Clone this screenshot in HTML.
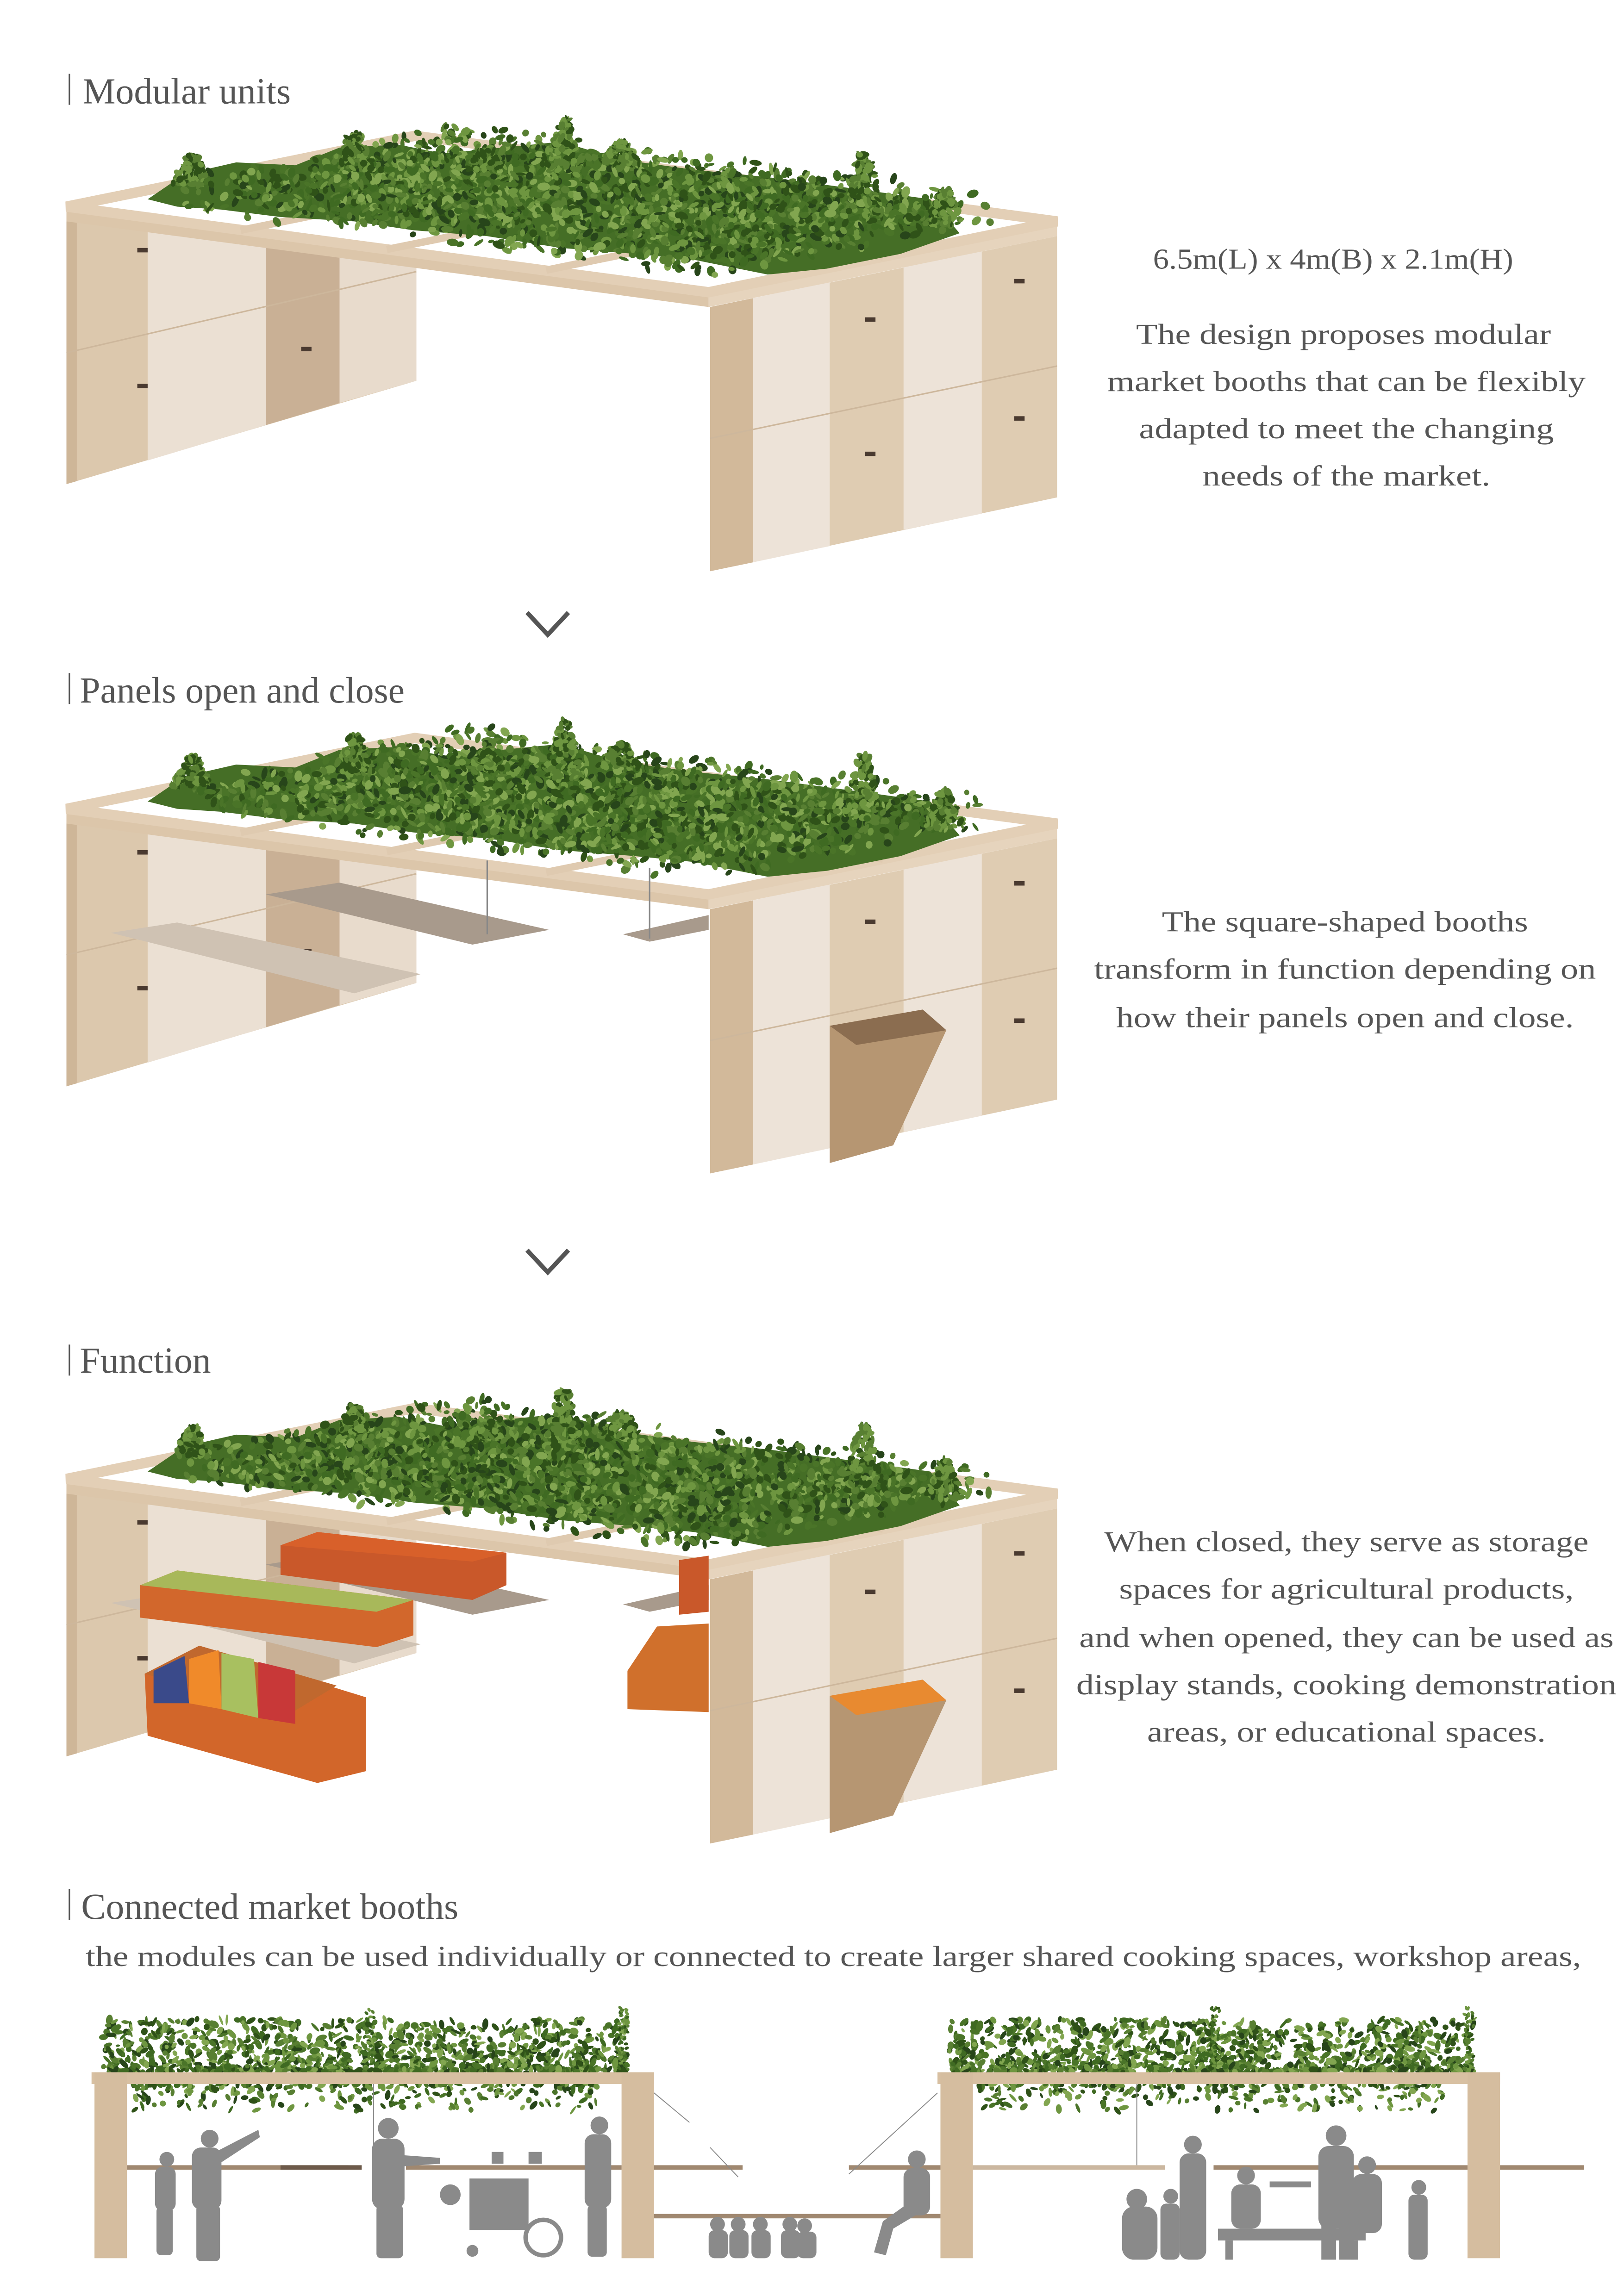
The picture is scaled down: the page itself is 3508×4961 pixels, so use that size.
<!DOCTYPE html>
<html><head><meta charset="utf-8">
<style>
html,body{margin:0;padding:0;background:#fff;}
svg{display:block;}
.t{font-family:"Liberation Serif",serif;fill:#555;}
</style></head>
<body>
<svg id="s" width="3508" height="4961" viewBox="0 0 1100 1555.6" xmlns="http://www.w3.org/2000/svg">
<defs>
<g id="booth">
  <polygon points="45,150 282,110 282,258 45,328" fill="#dcc8ad"/>
  <polygon points="100,141 180,127 180,288 100,312" fill="#ebe0d3"/>
  <polygon points="180,127 230,119 230,273 180,288" fill="#c9b095"/>
  <polygon points="230,119 282,110 282,258 230,273" fill="#e8dbcc"/>
  <polygon points="45,150 52,149 52,326 45,328" fill="#ceb698"/>
  <line x1="45" y1="239" x2="282" y2="184" stroke="#cdb79c" stroke-width="1"/>
  <polygon points="481,208 716,160 716,337 481,387" fill="#dfccb2"/>
  <polygon points="481,208 510,202 510,381 481,387" fill="#d2b99a"/>
  <polygon points="510,202 562,191 562,370 510,381" fill="#ede3d8"/>
  <polygon points="612,181 665,170 665,348 612,359" fill="#ede3d8"/>
  <line x1="481" y1="297" x2="716" y2="248" stroke="#cdb79c" stroke-width="1"/>
  <polygon points="45,140 281,92 716,150 480,198" fill="#fff"/>
  <polygon points="45,140 480,198 480,208 45,150" fill="#dcc6aa"/>
  <polygon points="480,198 716,150 716,160 480,208" fill="#e6d4bd"/>
  <polygon points="45,140 281,92 716,150 480,198" fill="none" stroke="#e3cfb6" stroke-width="7"/>
  <g stroke="#dfcab0" stroke-width="5">
    <line x1="163" y1="156" x2="399" y2="108"/>
    <line x1="262" y1="169" x2="498" y2="121"/>
    <line x1="370" y1="183" x2="606" y2="135"/>
    <line x1="163" y1="116" x2="598" y2="174"/>
  </g>
  <g fill="#4a3a30">
    <rect x="93" y="168" width="7" height="3"/><rect x="93" y="260" width="7" height="3"/>
    <rect x="204" y="235" width="7" height="3"/><rect x="586" y="215" width="7" height="3"/>
    <rect x="586" y="306" width="7" height="3"/><rect x="687" y="189" width="7" height="3"/>
    <rect x="687" y="282" width="7" height="3"/>
  </g>
</g>
<g id="plantbase">
  <polygon points="100,135 125,118 160,110 200,112 230,100 270,98 300,104 340,100 380,96 420,108 470,115 520,120 580,128 630,135 650,158 610,172 560,182 520,186 470,176 430,172 380,168 330,160 280,156 240,150 190,147 150,142 120,140" fill="#456e26"/>
</g>
</defs>

<line x1="47" y1="50" x2="47" y2="71" stroke="#555" stroke-width="1"/>
<text class="t" x="56" y="70" font-size="25">Modular units</text>
<line x1="47" y1="456" x2="47" y2="477" stroke="#555" stroke-width="1"/>
<text class="t" x="54" y="476" font-size="25">Panels open and close</text>
<line x1="47" y1="911" x2="47" y2="932" stroke="#555" stroke-width="1"/>
<text class="t" x="54" y="930" font-size="25">Function</text>
<line x1="47" y1="1280" x2="47" y2="1301" stroke="#555" stroke-width="1"/>
<text class="t" x="55" y="1300" font-size="25">Connected market booths</text>
<text class="t" x="58" y="1332" font-size="19.5" textLength="1013" lengthAdjust="spacingAndGlyphs">the modules can be used individually or connected to create larger shared cooking spaces, workshop areas,</text>

<g class="t" font-size="19.5" text-anchor="middle">
<text x="903" y="182" textLength="244" lengthAdjust="spacingAndGlyphs">6.5m(L) x 4m(B) x 2.1m(H)</text>
<text x="910" y="233" textLength="281" lengthAdjust="spacingAndGlyphs">The design proposes modular</text>
<text x="912" y="265" textLength="324" lengthAdjust="spacingAndGlyphs">market booths that can be flexibly</text>
<text x="912" y="297" textLength="281" lengthAdjust="spacingAndGlyphs">adapted to meet the changing</text>
<text x="912" y="329" textLength="195" lengthAdjust="spacingAndGlyphs">needs of the market.</text>
<text x="911" y="631" textLength="248" lengthAdjust="spacingAndGlyphs">The square-shaped booths</text>
<text x="911" y="663" textLength="340" lengthAdjust="spacingAndGlyphs">transform in function depending on</text>
<text x="911" y="696" textLength="310" lengthAdjust="spacingAndGlyphs">how their panels open and close.</text>
<text x="912" y="1051" textLength="328" lengthAdjust="spacingAndGlyphs">When closed, they serve as storage</text>
<text x="912" y="1083" textLength="308" lengthAdjust="spacingAndGlyphs">spaces for agricultural products,</text>
<text x="912" y="1116" textLength="362" lengthAdjust="spacingAndGlyphs">and when opened, they can be used as</text>
<text x="912" y="1148" textLength="366" lengthAdjust="spacingAndGlyphs">display stands, cooking demonstration</text>
<text x="912" y="1180" textLength="270" lengthAdjust="spacingAndGlyphs">areas, or educational spaces.</text>
</g>

<polyline points="357,415 371,430 385,415" fill="none" stroke="#555" stroke-width="3"/>
<polyline points="357,847 371,862 385,847" fill="none" stroke="#555" stroke-width="3"/>

<use href="#booth"/>
<use href="#plantbase"/>
<g id="pl1"></g>

<g transform="translate(0,408)">
<use href="#booth"/>
<polygon points="180,198 230,190 372,222 320,232" fill="#a89a8c"/>
<polygon points="75,224 120,217 285,252 240,265" fill="#cfc2b3"/>
<polygon points="422,225 480,212 480,222 440,230" fill="#a89a8c"/>
<line x1="330" y1="175" x2="330" y2="225" stroke="#888" stroke-width="1"/>
<line x1="440" y1="180" x2="440" y2="228" stroke="#888" stroke-width="1"/>
<polygon points="562,287 625,276 641,290 605,368 562,380" fill="#b69672"/>
<polygon points="562,287 625,276 641,290 580,300" fill="#8b6d50"/>
<use href="#plantbase"/>
<g id="pl2"></g>
</g>

<g transform="translate(0,862)">
<use href="#booth"/>
<polygon points="180,198 230,190 372,222 320,232" fill="#a89a8c"/>
<polygon points="75,224 120,217 285,252 240,265" fill="#cfc2b3"/>
<polygon points="422,225 480,212 480,222 440,230" fill="#a89a8c"/>
<polygon points="190,185 215,176 343,190 343,212 320,222 190,205" fill="#c9582a"/>
<polygon points="190,185 215,176 343,190 320,196" fill="#d8602a"/>
<polygon points="95,212 120,202 280,222 280,246 255,254 95,234" fill="#d2672c"/>
<polygon points="95,212 120,202 280,222 255,230" fill="#a8b85a"/>
<polygon points="98,272 135,253 248,288 248,338 215,346 100,314" fill="#d2662a"/>
<polygon points="98,272 135,253 228,280 195,300" fill="#c0682e"/>
<polygon points="104,270 125,260 128,292 104,292" fill="#3a4a8a"/>
<polygon points="128,262 148,256 150,296 128,292" fill="#f08a2a"/>
<polygon points="150,258 172,262 175,302 150,296" fill="#a8c060"/>
<polygon points="175,264 200,270 200,306 175,302" fill="#c83838"/>
<polygon points="425,270 445,240 480,238 480,298 425,296" fill="#d0702c"/>
<polygon points="460,195 480,192 480,230 460,232" fill="#c9582a"/>
<polygon points="562,287 625,276 641,290 605,368 562,380" fill="#b69672"/>
<polygon points="562,287 625,276 641,290 580,300" fill="#e88a30"/>
<use href="#plantbase"/>
<g id="pl3"></g>
</g>

<g id="bottom">
  <g id="pl4"></g>
  <rect x="62" y="1404" width="381" height="8" fill="#d8c0a2"/>
  <rect x="64" y="1404" width="22" height="126" fill="#d5bd9f"/>
  <rect x="421" y="1404" width="22" height="126" fill="#d5bd9f"/>
  <rect x="635" y="1404" width="381" height="8" fill="#d8c0a2"/>
  <rect x="637" y="1404" width="22" height="126" fill="#d5bd9f"/>
  <rect x="994" y="1404" width="22" height="126" fill="#d5bd9f"/>
  <g fill="#a08870">
    <rect x="86" y="1467" width="150" height="3"/>
    <rect x="190" y="1467" width="55" height="3" fill="#6d5a4a"/>
    <rect x="275" y="1467" width="146" height="3"/>
    <rect x="443" y="1467" width="60" height="3"/>
    <rect x="575" y="1467" width="62" height="3"/>
    <rect x="659" y="1467" width="130" height="3" fill="#cbb7a0"/>
    <rect x="822" y="1467" width="172" height="3"/>
    <rect x="1016" y="1467" width="57" height="3"/>
    <rect x="443" y="1500" width="194" height="3"/>
  </g>
  <g stroke="#888" stroke-width="0.6">
    <line x1="443" y1="1418" x2="467" y2="1438"/><line x1="481" y1="1455" x2="500" y2="1475"/>
    <line x1="635" y1="1418" x2="575" y2="1473"/><line x1="253" y1="1412" x2="253" y2="1467"/>
    <line x1="770" y1="1412" x2="770" y2="1467"/>
  </g>
  <g fill="#8a8a8a">
    <circle cx="113" cy="1463" r="5"/><rect x="105" y="1468" width="14" height="30" rx="5"/><rect x="106" y="1495" width="11" height="33" rx="3"/>
    <circle cx="142" cy="1449" r="6"/><rect x="130" y="1455" width="20" height="42" rx="6"/><rect x="133" y="1494" width="16" height="38" rx="3"/>
    <polygon points="146,1458 175,1443 176,1448 150,1465"/>
    <circle cx="263" cy="1442" r="7"/><rect x="252" y="1449" width="22" height="48" rx="7"/><rect x="255" y="1494" width="18" height="36" rx="3"/>
    <polygon points="270,1460 298,1462 298,1466 270,1468"/>
    <rect x="318" y="1476" width="40" height="35"/>
    <circle cx="305" cy="1487" r="7"/>
    <circle cx="368" cy="1516" r="12" fill="none" stroke="#8a8a8a" stroke-width="3"/>
    <circle cx="320" cy="1525" r="4"/>
    <rect x="333" y="1458" width="8" height="8"/><rect x="358" y="1458" width="9" height="8"/>
    <circle cx="406" cy="1440" r="6"/><rect x="396" y="1446" width="18" height="50" rx="6"/><rect x="398" y="1494" width="13" height="35" rx="3"/>
    <circle cx="486" cy="1507" r="5"/><rect x="480" y="1511" width="13" height="19" rx="4"/>
    <circle cx="500" cy="1507" r="5"/><rect x="494" y="1511" width="13" height="19" rx="4"/>
    <circle cx="515" cy="1507" r="5"/><rect x="509" y="1511" width="13" height="19" rx="4"/>
    <circle cx="535" cy="1507" r="5"/><rect x="529" y="1511" width="13" height="19" rx="4"/>
    <circle cx="545" cy="1508" r="5"/><rect x="540" y="1512" width="13" height="18" rx="4"/>
    <circle cx="621" cy="1463" r="6"/><rect x="612" y="1469" width="18" height="32" rx="6"/>
    <polygon points="612,1495 630,1495 605,1510 600,1528 592,1526 598,1505"/>
    <circle cx="808" cy="1453" r="6"/><rect x="799" y="1459" width="18" height="72" rx="6"/>
    <circle cx="770" cy="1490" r="7"/><rect x="760" y="1495" width="24" height="36" rx="8"/>
    <circle cx="793" cy="1488" r="5"/><rect x="786" y="1493" width="13" height="38" rx="4"/>
    <circle cx="844" cy="1474" r="6"/><rect x="834" y="1480" width="20" height="30" rx="6"/>
    <rect x="825" y="1510" width="100" height="8"/>
    <rect x="830" y="1518" width="5" height="13"/><rect x="915" y="1518" width="5" height="13"/>
    <rect x="860" y="1478" width="28" height="4"/>
    <circle cx="905" cy="1447" r="7"/><rect x="893" y="1454" width="24" height="56" rx="7"/>
    <rect x="895" y="1505" width="10" height="26"/><rect x="907" y="1505" width="10" height="26"/>
    <circle cx="926" cy="1467" r="6"/><rect x="916" y="1473" width="20" height="40" rx="6"/>
    <circle cx="961" cy="1482" r="5"/><rect x="954" y="1487" width="13" height="44" rx="4"/>
  </g>
</g>
</svg>
<script>
(function(){
var s=12345;function r(){s=(s*1103515245+12345)%2147483648;return s/2147483648;}
var NS="http://www.w3.org/2000/svg";
var cols=["#3f6a22","#587f32","#6e9640","#2f5218","#82a650","#4a7428","#27451a"];
function leaf(g,x,y,rx,ry,c){var e=document.createElementNS(NS,"ellipse");e.setAttribute("cx",x.toFixed(1));e.setAttribute("cy",y.toFixed(1));e.setAttribute("rx",rx.toFixed(1));e.setAttribute("ry",ry.toFixed(1));e.setAttribute("fill",c);e.setAttribute("transform","rotate("+(r()*180-90).toFixed(0)+" "+x.toFixed(1)+" "+y.toFixed(1)+")");g.appendChild(e);}
["pl1","pl2","pl3"].forEach(function(id){
 var g=document.getElementById(id);
 for(var i=0;i<2000;i++){
  var u=0.12+r()*0.83,v=0.1+r()*0.82;
  var x=45+u*435+v*236,y=140+u*58-v*48-r()*22;
  leaf(g,x,y,1.8+r()*2.5,1+r()*1.8,cols[Math.floor(r()*cols.length)]);
 }
 var peaks=[[382,80,40],[585,104,40],[240,90,25],[130,105,20],[640,128,25],[420,96,15],[330,100,15]];
 peaks.forEach(function(p){for(var i=0;i<90;i++){var t=r();leaf(g,p[0]+(r()-0.5)*(6+t*22),p[1]+t*p[2],1.8+r()*2,1+r()*1.4,cols[Math.floor(r()*3)+1]);}});
});
var g=document.getElementById("pl4");
[[70,425],[643,998]].forEach(function(f){
 for(var i=0;i<1200;i++){var x=f[0]+r()*(f[1]-f[0]);var y=1404-Math.pow(r(),1.8)*36;leaf(g,x,y,1.5+r()*2.5,0.8+r()*1.5,cols[Math.floor(r()*cols.length)]);}
 for(var i=0;i<250;i++){var x=f[0]+20+r()*(f[1]-f[0]-40);var y=1412+Math.pow(r(),2)*18;leaf(g,x,y,1.5+r()*2,0.8+r()*1.2,cols[Math.floor(r()*cols.length)]);}
 [f[0]+180,f[1]-3].forEach(function(px){for(var i=0;i<50;i++){leaf(g,px+(r()-0.5)*6,1360+r()*42,1.5,1,cols[Math.floor(r()*4)]);}});
});
})();
</script>
</body></html>
